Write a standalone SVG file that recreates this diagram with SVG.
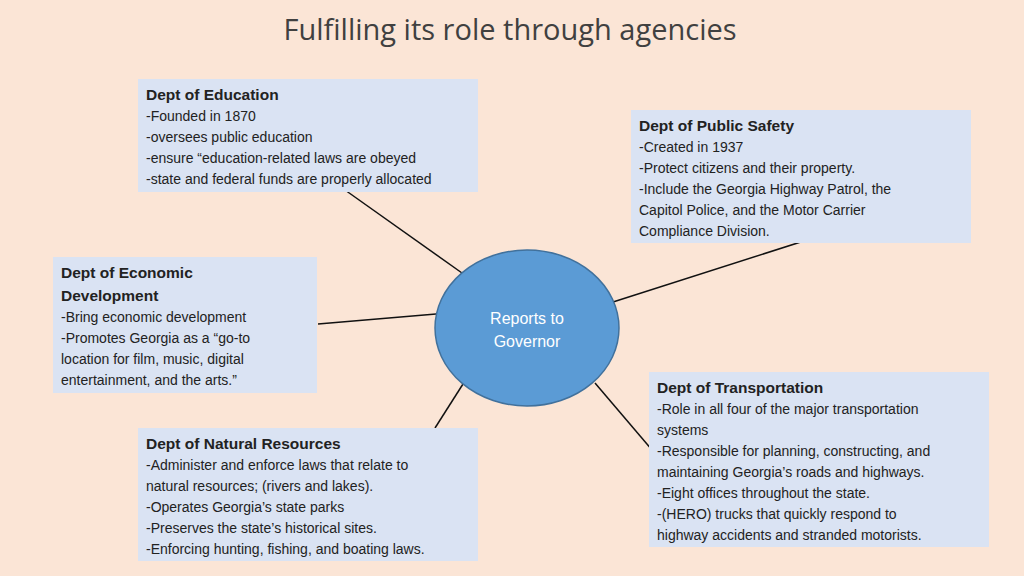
<svg xmlns="http://www.w3.org/2000/svg" width="1024" height="576" viewBox="0 0 1024 576">
<style>
.box{fill:#DAE3F3}
.t{font-family:"Liberation Sans",Arial,sans-serif;font-size:14px;fill:#222}
.b{font-weight:bold;font-size:15.5px}
.c{stroke:#111;stroke-width:1.5}
</style>
<rect width="1024" height="576" fill="#FBE5D6"/>
<text x="510" y="40" text-anchor="middle" font-family="'Open Sans','Liberation Sans',sans-serif" font-size="29" fill="#404040">Fulfilling its role through agencies</text>
<g id="connectors">
<line class="c" x1="345" y1="190" x2="462" y2="273"/>
<line class="c" x1="807" y1="240" x2="613" y2="302"/>
<line class="c" x1="318" y1="324" x2="436" y2="314"/>
<line class="c" x1="463" y1="384" x2="435" y2="428"/>
<line class="c" x1="595" y1="383" x2="681" y2="484"/>
</g>
<g id="education"><rect class="box" x="138" y="79" width="340" height="113"/>
<text class="t" x="146" y="100"><tspan class="b">Dept of Education</tspan><tspan x="146" dy="21">-Founded in 1870</tspan><tspan x="146" dy="21">-oversees public education</tspan><tspan x="146" dy="21">-ensure “education-related laws are obeyed</tspan><tspan x="146" dy="21">-state and federal funds are properly allocated</tspan></text></g>
<g id="safety"><rect class="box" x="631" y="110" width="340" height="133"/>
<text class="t" x="639" y="131"><tspan class="b">Dept of Public Safety</tspan><tspan x="639" dy="21">-Created in 1937</tspan><tspan x="639" dy="21">-Protect citizens and their property.</tspan><tspan x="639" dy="21">-Include the Georgia Highway Patrol, the</tspan><tspan x="639" dy="21">Capitol Police, and the Motor Carrier</tspan><tspan x="639" dy="21">Compliance Division.</tspan></text></g>
<g id="economic"><rect class="box" x="53" y="257" width="264" height="136"/>
<text class="t" x="61" y="278"><tspan class="b">Dept of Economic</tspan><tspan class="b" x="61" dy="23">Development</tspan><tspan x="61" dy="21">-Bring economic development</tspan><tspan x="61" dy="21">-Promotes Georgia as a “go-to</tspan><tspan x="61" dy="21">location for film, music, digital</tspan><tspan x="61" dy="21">entertainment, and the arts.”</tspan></text></g>
<g id="natural"><rect class="box" x="138" y="428" width="340" height="133"/>
<text class="t" x="146" y="449"><tspan class="b">Dept of Natural Resources</tspan><tspan x="146" dy="21">-Administer and enforce laws that relate to</tspan><tspan x="146" dy="21">natural resources; (rivers and lakes).</tspan><tspan x="146" dy="21">-Operates Georgia’s state parks</tspan><tspan x="146" dy="21">-Preserves the state’s historical sites.</tspan><tspan x="146" dy="21">-Enforcing hunting, fishing, and boating laws.</tspan></text></g>
<g id="transportation"><rect class="box" x="649" y="372" width="340" height="175"/>
<text class="t" x="657" y="393"><tspan class="b">Dept of Transportation</tspan><tspan x="657" dy="21">-Role in all four of the major transportation</tspan><tspan x="657" dy="21">systems</tspan><tspan x="657" dy="21">-Responsible for planning, constructing, and</tspan><tspan x="657" dy="21">maintaining Georgia’s roads and highways.</tspan><tspan x="657" dy="21">-Eight offices throughout the state.</tspan><tspan x="657" dy="21">-(HERO) trucks that quickly respond to</tspan><tspan x="657" dy="21">highway accidents and stranded motorists.</tspan></text></g>
<g id="governor"><ellipse cx="527" cy="328" rx="92" ry="78" fill="#5B9BD5" stroke="#41719C" stroke-width="1.5"/>
<text x="527" y="324" text-anchor="middle" font-family="'Liberation Sans',Arial,sans-serif" font-size="16" fill="#fff">Reports to</text>
<text x="527" y="347" text-anchor="middle" font-family="'Liberation Sans',Arial,sans-serif" font-size="16" fill="#fff">Governor</text></g>
</svg>
